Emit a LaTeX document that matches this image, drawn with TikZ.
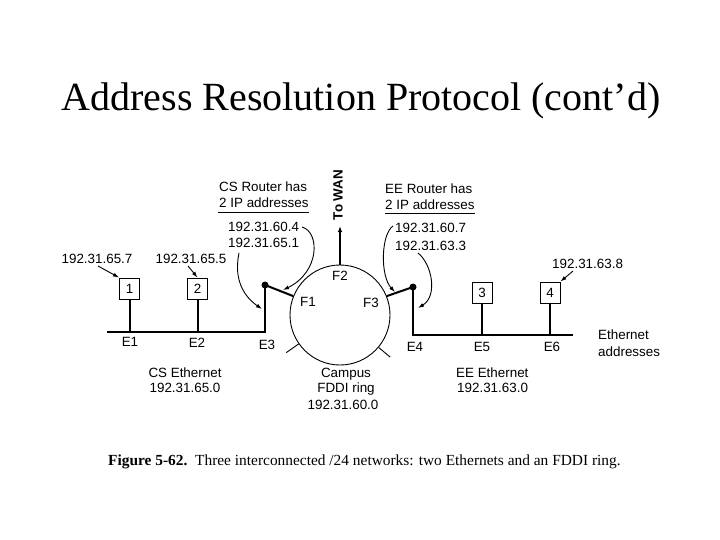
\documentclass[tikz,border=0pt]{standalone}
\usepackage{fontspec}
\setmainfont{Liberation Serif}
\newfontfamily\lab{Liberation Sans}
\usetikzlibrary{arrows.meta,calc}
\tikzset{
  lbl/.style={font=\lab\fontsize{13.4}{15}\selectfont, inner sep=0pt, anchor=base},
  lbll/.style={lbl, anchor=base west},
  host/.style={draw, line width=0.9pt, minimum width=20pt, minimum height=21pt, inner sep=0pt, font=\lab\fontsize{13.4}{15}\selectfont},
  ether/.style={line width=2.4pt, line join=miter},
  drop/.style={line width=2pt},
  thin/.style={line width=0.9pt},
  ptr/.style={line width=0.9pt, -{Latex[length=6pt,width=4pt]}},
  dot/.style={circle, fill, inner sep=0pt, minimum size=7pt}
}
\begin{document}
\begin{tikzpicture}[x=1pt,y=-1pt]
\useasboundingbox (0,0) rectangle (720,540);
% title
\node[font=\fontsize{40}{44}\selectfont, anchor=base, inner sep=0pt] (title) at (361,111) {Address Resolution Protocol (cont’d)};

% FDDI ring
\node[circle, draw, line width=0.9pt, minimum size=100pt, inner sep=0pt] (ring) at (340,315) {};
\draw[thin] (ring.215) -- ($(ring.center)!1.3!(ring.215)$);
\draw[thin] (ring.320) -- ($(ring.center)!1.3!(ring.320)$);
\coordinate (wan) at (340,226);
\draw[line width=2pt, -{Latex[length=6pt,width=4.5pt]}] (ring.north) -- (wan);
\node[font=\lab\bfseries\fontsize{13.4}{15}\selectfont, rotate=90, inner sep=0pt] (towan) at (338,195) {To WAN};
\node[lbl] (f2) at (340,280.5) {F2};
\node[lbl] (f1) at (308,306.5) {F1};
\node[lbl] (f3) at (371,307.5) {F3};

% CS router and Ethernet
\node[dot] (csr) at (265,285) {};
\coordinate (cscorner) at (265,332);
\coordinate (csend) at (107,332);
\draw[ether] (csend) -- (cscorner) -- (csr.center);
\draw[drop] (csr.center) -- (ring.158);

\node[host] (h1) at (129.5,288.5) {1};
\node[host] (h2) at (197.5,288.5) {2};
\draw[drop] (h1.south) -- (h1.south |- csend);
\draw[drop] (h2.south) -- (h2.south |- csend);

\node[lbl] (ip657) at (97,263.5) {192.31.65.7};
\node[lbl] (ip655) at (191,263.5) {192.31.65.5};
\coordinate (a1s) at (98,266);
\coordinate (a2s) at (188,266);
\draw[ptr] (a1s) -- (h1.north west);
\draw[ptr] (a2s) -- (h2.north);

\node[lbl] (e1) at (130,346.5) {E1};
\node[lbl] (e2) at (197,347.5) {E2};
\node[lbl] (e3) at (267,349.5) {E3};

\node[lbll] (csrh) at (219,191.5) {CS Router has};
\node[lbll] (csip) at (219,207.5) {2 IP addresses};
\coordinate (csul1) at (218,212);
\coordinate (csul2) at (309,212);
\draw[line width=0.8pt] (csul1) -- (csul2);
\node[lbll] (ip604) at (228,231.5) {192.31.60.4};
\node[lbll] (ip651) at (228,247.5) {192.31.65.1};
\coordinate (ca1) at (302,227);
\coordinate (ta1) at (283,290);
\draw[ptr] (ca1) .. controls (320,232) and (320,272) .. (ta1);
\coordinate (ca2) at (239,253);
\coordinate (ta2) at (262,309);
\draw[ptr] (ca2) .. controls (233,282) and (246,298) .. (ta2);

\node[lbl] (cse1) at (185,377.5) {CS Ethernet};
\node[lbl] (cse2) at (185,392.5) {192.31.65.0};

% EE router and Ethernet
\node[dot] (eer) at (413,287) {};
\coordinate (eecorner) at (413,335);
\coordinate (eeend) at (573,335);
\draw[ether] (eeend) -- (eecorner) -- (eer.center);
\draw[drop] (eer.center) -- (ring.22);

\node[host] (h3) at (482,293) {3};
\node[host] (h4) at (550,292.5) {4};
\draw[drop] (h3.south) -- (h3.south |- eeend);
\draw[drop] (h4.south) -- (h4.south |- eeend);

\node[lbll] (ip638) at (552,268.5) {192.31.63.8};
\coordinate (a4s) at (573,271);
\draw[ptr] (a4s) -- (h4.north east);

\node[lbl] (e4) at (415,351.5) {E4};
\node[lbl] (e5) at (482,351.5) {E5};
\node[lbl] (e6) at (552,351.5) {E6};
\node[lbll] (ea1) at (598,339.5) {Ethernet};
\node[lbll] (ea2) at (598,356.5) {addresses};

\node[lbll] (eerh) at (385,193.5) {EE Router has};
\node[lbll] (eeip) at (385,209.5) {2 IP addresses};
\coordinate (eeul1) at (385,213);
\coordinate (eeul2) at (475,213);
\draw[line width=0.8pt] (eeul1) -- (eeul2);
\node[lbll] (ip607) at (395,232.5) {192.31.60.7};
\node[lbll] (ip633) at (395,250.5) {192.31.63.3};
\coordinate (cb1) at (393,226);
\coordinate (tb1) at (395,292);
\draw[ptr] (cb1) .. controls (381,234) and (380,276) .. (tb1);
\coordinate (cb2) at (418,253);
\coordinate (tb2) at (418,308);
\draw[ptr] (cb2) .. controls (432,264) and (438,296) .. (tb2);

\node[lbll] (eee1) at (456,377.5) {EE Ethernet};
\node[lbll] (eee2) at (457,392.5) {192.31.63.0};

% campus
\node[lbl] (cp1) at (346,377.5) {Campus};
\node[lbl] (cp2) at (346,392.5) {FDDI ring};
\node[lbl] (cp3) at (343,409.5) {192.31.60.0};

% caption
\node[anchor=base west, inner sep=0pt, font=\fontsize{15.4}{17}\selectfont] (cap) at (108,465) {\textbf{Figure 5-62.}\ \ Three interconnected /24 networks: two Ethernets and an FDDI ring.};
\end{tikzpicture}
\end{document}
